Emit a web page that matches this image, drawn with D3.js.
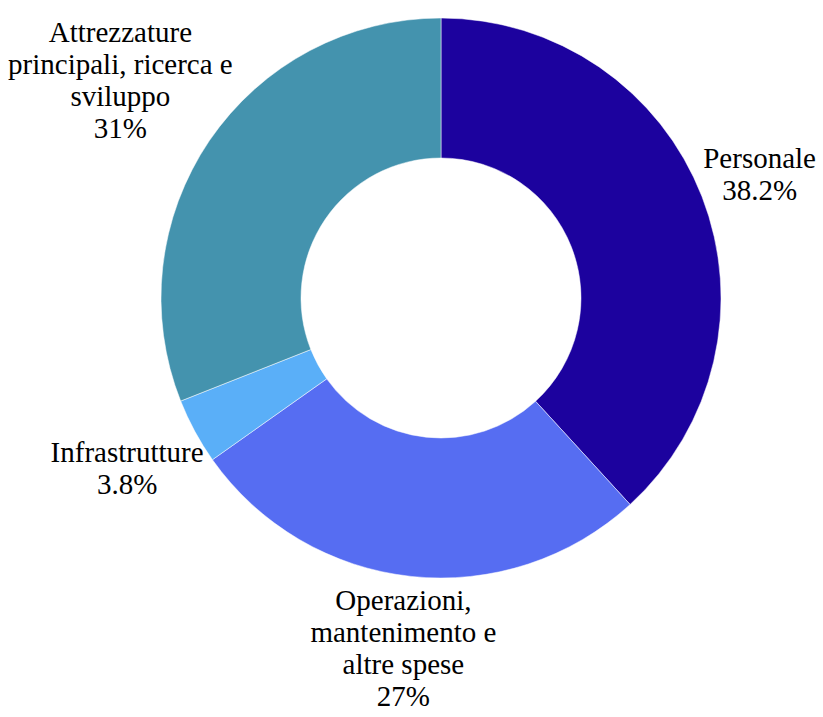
<!DOCTYPE html>
<html>
<head>
<meta charset="utf-8">
<script src="https://cdn.jsdelivr.net/npm/d3@7"></script>
</head>
<body style="margin:0">
<div id="chart"></div>
<script>
// slices, clockwise from 12 o'clock
var categories = ["Personale", "Operazioni, mantenimento e altre spese", "Infrastrutture", "Attrezzature principali, ricerca e sviluppo"];
var labelLines = [
	["Personale"],
	["Operazioni,", "mantenimento e", "altre spese"],
	["Infrastrutture"],
	["Attrezzature", "principali, ricerca e", "sviluppo"]
];
var values = [38.2, 27, 3.8, 31];
var colors = ["#1c029e", "#566df2", "#5aaff8", "#4493ae"];

var width = 823,
	height = 717,
	cx = 441,
	cy = 298,
	outerR = 280,
	innerR = 140,
	fontSize = 29,
	lineH = 32,
	pad = 8;

var svg = d3.select("#chart")
	.append("svg")
	.attr("width", width)
	.attr("height", height);

var pie = d3.pie()
	.sort(null)
	.value(function(d) { return d; });

var arc = d3.arc()
	.innerRadius(innerR)
	.outerRadius(outerR);

var arcs = pie(values);

svg.append("g")
	.attr("transform", "translate(" + cx + "," + cy + ")")
	.selectAll("path.slice")
	.data(arcs)
	.enter()
	.append("path")
	.attr("class", "slice")
	.attr("d", arc)
	.attr("fill", function(d, i) { return colors[i]; })
	.attr("stroke", "#fff")
	.attr("stroke-width", 0.5);

// rough text widths (Times-like metrics), so nothing has to be measured
var ctx = document.createElement("canvas").getContext("2d");
ctx.font = fontSize + "px Times New Roman";

// one flat list of label lines, each with its absolute position
var rows = [];
arcs.forEach(function(d, i) {
	var lines = labelLines[i].concat([values[i] + "%"]);
	var w = d3.max(lines, function(s) { return ctx.measureText(s).width; });
	var top = -0.89 * fontSize,
		bottom = (lines.length - 1) * lineH + 0.22 * fontSize;
	var h = bottom - top;
	var a = (d.startAngle + d.endAngle) / 2;
	var s = Math.sin(a), c = Math.cos(a);
	// push the block out along the mid angle until it clears the ring
	var ext = Math.sqrt(Math.pow(s * w / 2, 2) + Math.pow(c * h / 2, 2));
	var r = outerR + pad + ext;
	var x = cx + s * r,
		y = cy - c * r - (top + bottom) / 2;
	lines.forEach(function(t, k) {
		rows.push({ text: t, x: x, y: y + k * lineH });
	});
});

svg.selectAll("text")
	.data(rows)
	.enter()
	.append("text")
	.attr("x", function(d) { return d.x; })
	.attr("y", function(d) { return d.y; })
	.attr("text-anchor", "middle")
	.attr("font-size", fontSize)
	.style("font-family", function() { return "Times New Roman"; })
	.text(function(d) { return d.text; });
</script>
</body>
</html>
